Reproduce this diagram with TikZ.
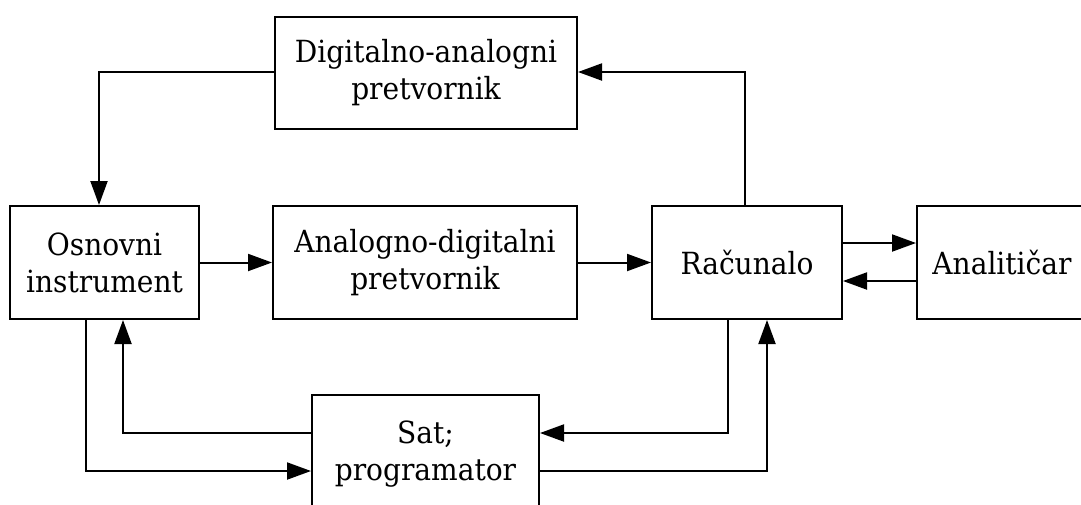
\documentclass[tikz,border=0pt]{standalone}
\usepackage{fontspec}
\setmainfont[FakeStretch=0.92]{DejaVu Serif}
\usetikzlibrary{arrows.meta}
\begin{document}
\begin{tikzpicture}[x=1pt,y=-1pt,
  blk/.style={draw,line width=2pt,inner sep=0pt,align=center,font=\fontsize{30.5}{37}\selectfont},
  conn/.style={line width=2pt,-{Triangle[length=24pt,width=17pt]}}]
\useasboundingbox (0,0) rectangle (1081,504);
\clip (0,0) rectangle (1081,504);
% blocks; y grows downward
\node[blk,minimum width=302pt,minimum height=112pt] (dac) at (426,73) {Digitalno-analogni\\pretvornik};
\node[blk,minimum width=189pt,minimum height=113pt] (osn) at (104.5,262.5) {Osnovni\\instrument};
\node[blk,minimum width=304pt,minimum height=113pt] (adc) at (425,262.5) {Analogno-digitalni\\pretvornik};
\node[blk,minimum width=190pt,minimum height=113pt] (rac) at (747,262.5) {Računalo};
\node[blk,minimum width=170pt,minimum height=113pt] (ana) at (1002,262.5) {Analitičar};
\node[blk,minimum width=227pt,minimum height=120pt] (sat) at (425.5,455) {\raisebox{3.5pt}{\begin{tabular}{@{}c@{}}Sat;\\programator\end{tabular}}};
% bend points of the routed connectors
\coordinate (c1) at (99,72);
\coordinate (c2) at (745,72);
\coordinate (c3) at (86,471);
\coordinate (c4) at (123,433);
\coordinate (c5) at (728,433);
\coordinate (c6) at (767,471);
\coordinate (r1) at (0,243);
\coordinate (r2) at (0,281);
% connectors
\draw[conn] (dac.west |- c1) -| (osn.north -| c1);
\draw[conn] (rac.north -| c2) |- (dac.east |- c2);
\draw[conn] (osn.east) -- (adc.west);
\draw[conn] (adc.east) -- (rac.west);
\draw[conn] (rac.east |- r1) -- (ana.west |- r1);
\draw[conn] (ana.west |- r2) -- (rac.east |- r2);
\draw[conn] (osn.south -| c3) |- (sat.west |- c3);
\draw[conn] (sat.west |- c4) -| (osn.south -| c4);
\draw[conn] (rac.south -| c5) |- (sat.east |- c5);
\draw[conn] (sat.east |- c6) -| (rac.south -| c6);
\end{tikzpicture}
\end{document}
